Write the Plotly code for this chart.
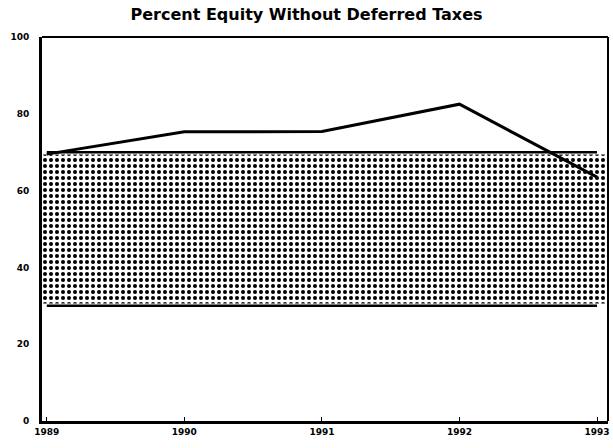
import plotly.graph_objects as go

years = [1989, 1990, 1991, 1992, 1993]
equity = [69.5, 75.3, 75.4, 82.5, 63.5]
tick_labels = ["1989", "1990", "1991", "1992", "1993"]
band_low = 30
band_high = 70
y_ticks = [0, 20, 40, 60, 80, 100]

x_min, x_max = 1988.965, 1993.08

fig = go.Figure()

# stippled band
fig.add_trace(go.Scatter(
    x=[x_min, x_max, x_max, x_min, x_min],
    y=[band_low + 0.6, band_low + 0.6, band_high - 0.6, band_high - 0.6, band_low + 0.6],
    fill="toself", fillcolor="white", mode="lines", line=dict(width=0),
    fillpattern=dict(shape=".", fgcolor="black", bgcolor="white", fgopacity=1,
                     size=6, solidity=0.35),
    hoverinfo="skip", showlegend=False))

# band boundary lines
for v in (band_low, band_high):
    fig.add_trace(go.Scatter(x=[years[0], years[-1]], y=[v, v], mode="lines",
                             line=dict(color="black", width=2.5), showlegend=False))

# equity line
fig.add_trace(go.Scatter(x=years, y=equity, mode="lines",
                         line=dict(color="black", width=3), showlegend=False))

# top and right frame
fig.add_shape(type="line", xref="paper", yref="paper", x0=0, x1=1, y0=1, y1=1,
              line=dict(color="black", width=2))
fig.add_shape(type="line", xref="paper", yref="paper", x0=1, x1=1, y0=0, y1=1,
              line=dict(color="black", width=2))

font_bold = dict(family="DejaVu Sans, sans-serif", size=9, color="black", weight="bold")

fig.update_layout(
    width=613, height=448,
    margin=dict(l=42, r=5, t=37, b=27, autoexpand=False),
    paper_bgcolor="white", plot_bgcolor="white",
    title=dict(text="Percent Equity Without Deferred Taxes", x=0.5, xanchor="center",
               y=0.968, yanchor="middle",
               font=dict(family="DejaVu Sans, sans-serif", size=16, color="black", weight="bold")),
    xaxis=dict(range=[x_min, x_max], tickvals=years, ticktext=tick_labels,
               showgrid=False, zeroline=False, showline=True, linecolor="black", linewidth=3,
               ticks="inside", ticklen=4, tickcolor="black", tickfont=font_bold,
               automargin=False),
    yaxis=dict(range=[0, 100], tickvals=y_ticks, showgrid=False, zeroline=False,
               showline=True, linecolor="black", linewidth=3, ticks="",
               tickfont=font_bold, ticklabelstandoff=8, automargin=False),
)

fig.write_html("out.html", config={"displayModeBar": False},
               post_script="document.body.style.margin='0';")
